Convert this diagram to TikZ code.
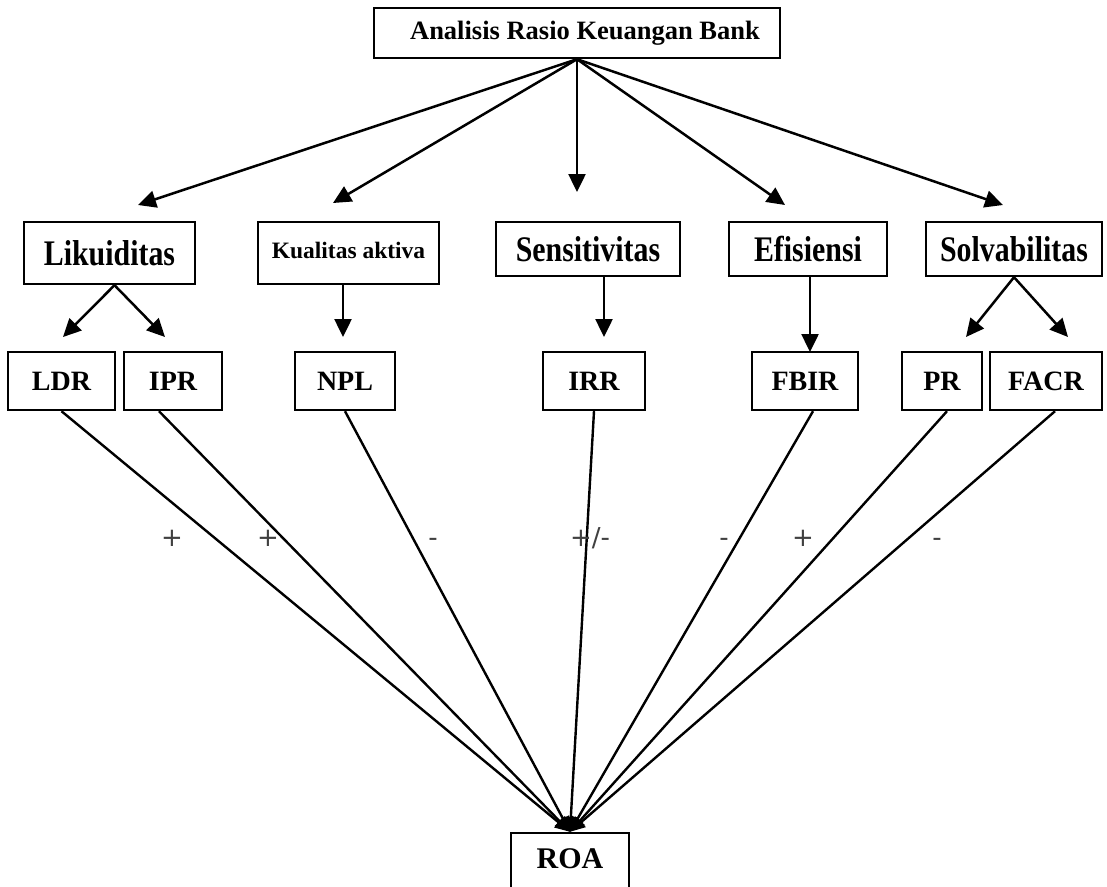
\documentclass[tikz,border=0pt]{standalone}
\usepackage{fontspec}
\usepackage{graphicx}
\setmainfont{Liberation Serif}
\newfontfamily\labfont{DejaVu Sans}
\usetikzlibrary{arrows.meta}
\newcommand{\lvlone}[1]{\scalebox{0.83}[1]{\fontsize{36}{42}\selectfont\bfseries #1}}
\begin{document}
\begin{tikzpicture}[x=1pt,y=-1pt,
  box/.style={draw, line width=2.4pt, inner sep=0pt, font=\bfseries, align=center},
  arr/.style={line width=2.5pt, -{Triangle[length=18pt,width=17pt]}},
  lnk/.style={line width=2.4pt, -{Triangle[length=15pt,width=13pt]}},
  sign/.style={font=\labfont\fontsize{26}{30}\selectfont, text=black!75, anchor=base, inner sep=0pt}
]
\useasboundingbox (0,0) rectangle (1107,886);

% top
\node[box, minimum width=406pt, minimum height=50pt, font=\fontsize{26.5}{30}\selectfont\bfseries] (title) at (577,33) {\hspace*{16pt}Analisis Rasio Keuangan Bank};

% level 1
\node[box, minimum width=171pt, minimum height=62pt] (lik) at (109.5,253) {\lvlone{Likuiditas}};
\node[box, minimum width=181pt, minimum height=62pt, font=\fontsize{23.5}{27}\selectfont\bfseries] (kual) at (348.5,253) {\raisebox{6pt}{Kualitas aktiva}};
\node[box, minimum width=184pt, minimum height=54pt] (sens) at (588,249) {\lvlone{Sensitivitas}};
\node[box, minimum width=158pt, minimum height=54pt] (efi) at (808,249) {\lvlone{Efisiensi}};
\node[box, minimum width=176pt, minimum height=54pt] (solv) at (1014,249) {\lvlone{Solvabilitas}};

% level 2
\tikzset{lv2/.style={box, minimum height=58pt, font=\fontsize{28}{32}\selectfont\bfseries}}
\node[lv2, minimum width=107pt] (ldr) at (61.5,381) {LDR};
\node[lv2, minimum width=98pt] (ipr) at (173,381) {IPR};
\node[lv2, minimum width=100pt] (npl) at (345,381) {NPL};
\node[lv2, minimum width=102pt] (irr) at (594,381) {IRR};
\node[lv2, minimum width=106pt] (fbir) at (805,381) {FBIR};
\node[lv2, minimum width=80pt] (pr) at (942,381) {PR};
\node[lv2, minimum width=112pt] (facr) at (1046,381) {FACR};

% ROA
\node[box, minimum width=118pt, minimum height=62pt, font=\fontsize{30}{34}\selectfont\bfseries] (roa) at (570,864) {\raisebox{10pt}{ROA}};

% arrow tips
\coordinate (t1) at (138,205);
\coordinate (t2) at (333,203);
\coordinate (t3) at (577,192);
\coordinate (t4) at (785,205);
\coordinate (t5) at (1003,205);
\coordinate (u1) at (63,337);
\coordinate (u2) at (165,337);
\coordinate (u3) at (343,337);
\coordinate (u4) at (604,337);
\coordinate (u5) at (810,352);
\coordinate (u6) at (966,337);
\coordinate (u7) at (1068,337);

\draw[arr] (title.south) -- (t1);
\draw[arr] (title.south) -- (t2);
\draw[arr] (title.south) -- (t3);
\draw[arr] (title.south) -- (t4);
\draw[arr] (title.south) -- (t5);

\draw[arr] ([xshift=5pt]lik.south) -- (u1);
\draw[arr] ([xshift=5pt]lik.south) -- (u2);
\draw[arr] (kual.south -| u3) -- (u3);
\draw[arr] (sens.south -| u4) -- (u4);
\draw[arr] (efi.south -| u5) -- (u5);
\draw[arr] (solv.south) -- (u6);
\draw[arr] (solv.south) -- (u7);

% to ROA
\draw[lnk] (ldr.south) -- (roa.north);
\draw[lnk] ([xshift=-14pt]ipr.south) -- (roa.north);
\draw[lnk] (npl.south) -- (roa.north);
\draw[lnk] (irr.south) -- (roa.north);
\draw[lnk] ([xshift=8pt]fbir.south) -- (roa.north);
\draw[lnk] ([xshift=5pt]pr.south) -- (roa.north);
\draw[lnk] ([xshift=9pt]facr.south) -- (roa.north);

% signs
\node[sign] (s1) at (172,546) {+};
\node[sign] (s2) at (268,546) {+};
\node[sign] (s3) at (433,546) {-};
\node[sign] (s4) at (590,546) {+/-};
\node[sign] (s5) at (724,546) {-};
\node[sign] (s6) at (803,546) {+};
\node[sign] (s7) at (937,546) {-};
\end{tikzpicture}
\end{document}
